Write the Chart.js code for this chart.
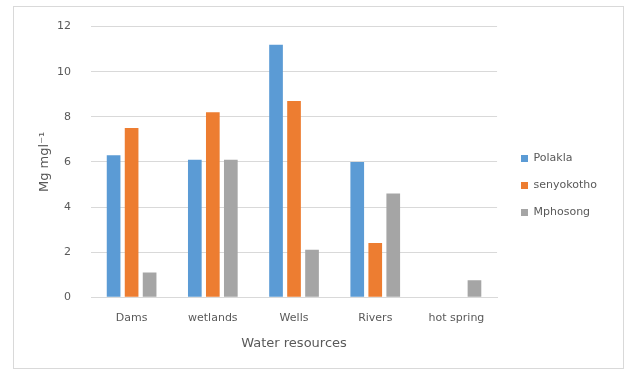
<!DOCTYPE html>
<html>
<head>
<meta charset="utf-8">
<script src="https://cdn.jsdelivr.net/npm/chart.js@4"></script>
<style>
  html, body { margin: 0; padding: 0; background: #ffffff; }
  #wrap { position: relative; width: 629px; height: 372px; }
  #frame { position: absolute; left: 13px; top: 6px; width: 611px; height: 363px; border: 1px solid #d9d9d9; box-sizing: border-box; }
  canvas { position: absolute; left: 0; top: 0; }
</style>
</head>
<body>
<div id="wrap">
  <div id="frame"></div>
  <canvas id="c" width="629" height="372"></canvas>
</div>
<script>
const categories = ["Dams", "wetlands", "Wells", "Rivers", "hot spring"];
const seriesNames = ["Polakla", "senyokotho", "Mphosong"];
const polakla = [6.3, 6.1, 11.2, 6.0, null];
const senyokotho = [7.5, 8.2, 8.7, 2.4, null];
const mphosong = [1.1, 6.1, 2.1, 4.6, 0.75];
const yTicks = [0, 2, 4, 6, 8, 10, 12];

const colors = ["#5b9bd5", "#ed7d31", "#a5a5a5"];
const textColor = "#595959";
const fontFamily = "'DejaVu Sans', sans-serif";

const ds = [polakla, senyokotho, mphosong].map((vals, i) => ({
  label: seriesNames[i],
  data: vals,
  backgroundColor: colors[i],
  borderWidth: 0,
  categoryPercentage: 0.665,
  barPercentage: 0.76
}));

// nudge the legend block a little right and down from its default slot
const legendNudge = {
  id: "legendNudge",
  afterLayout(chart) {
    const lg = chart.legend;
    if (!lg) return;
    const dx = 521 - (lg.left + 16);
    lg.left += dx; lg.right += dx;
    lg.top += 5; lg.bottom += 5;
  }
};

new Chart(document.getElementById("c"), {
  type: "bar",
  data: { labels: categories, datasets: ds },
  plugins: [legendNudge],
  options: {
    responsive: false,
    animation: false,
    layout: { padding: { left: 37, top: 10, right: 30, bottom: 21 } },
    plugins: {
      legend: {
        position: "right",
        labels: {
          boxWidth: 7, boxHeight: 7, padding: 16,
          color: textColor,
          font: { family: fontFamily, size: 11 }
        }
      },
      tooltip: { enabled: false }
    },
    scales: {
      x: {
        grid: { display: false, drawTicks: false },
        border: { color: "#d9d9d9" },
        ticks: { color: textColor, padding: 14, font: { family: fontFamily, size: 11 } },
        title: { display: true, text: "Water resources", color: textColor, padding: { top: -3, bottom: 0 }, font: { family: fontFamily, size: 13 } }
      },
      y: {
        min: 0, max: 12,
        afterBuildTicks: (s) => { s.ticks = yTicks.map(v => ({ value: v })); },
        afterFit: (s) => { s.width = 54; },
        grid: { color: "#d9d9d9", drawTicks: false },
        border: { display: false },
        ticks: { color: textColor, padding: 20, font: { family: fontFamily, size: 11 } },
        title: { display: true, text: "Mg mgl\u207B\u00B9", color: textColor, padding: 0, font: { family: fontFamily, size: 13 } }
      }
    }
  }
});
</script>
</body>
</html>
